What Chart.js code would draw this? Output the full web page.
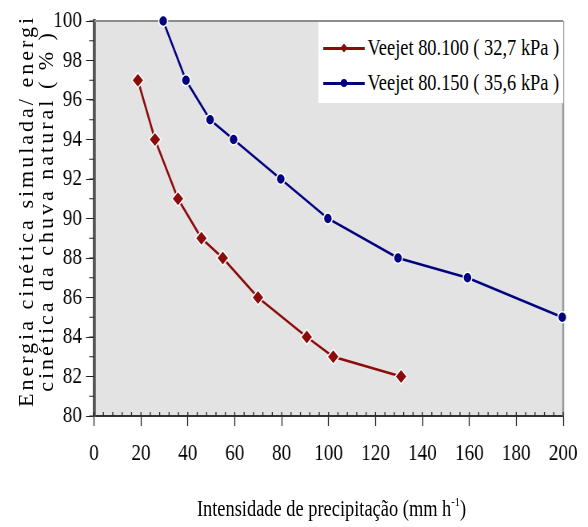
<!DOCTYPE html>
<html>
<head>
<meta charset="utf-8">
<script src="https://cdn.jsdelivr.net/npm/chart.js@4.4.1/dist/chart.umd.min.js"></script>
<style>
  html, body { margin: 0; padding: 0; background: #fff; }
  body { width: 588px; height: 527px; overflow: hidden; position: relative;
         font-family: "Liberation Serif", "Times New Roman", serif; color: #000; }
  /* the original figure is horizontally condensed, so draw wider and squeeze */
  #wrap { position: absolute; left: 0; top: 0; width: 735px; height: 527px;
          transform: scaleX(0.8); transform-origin: 0 0; }
  #wrap canvas { position: absolute; left: 0; top: 0; }
  #legend { position: absolute; left: 397.5px; top: 22px; width: 306px; height: 81px; background: #fff; }
  .row { position: absolute; left: 0; height: 30px; display: flex; align-items: center;
         font-size: 23px; white-space: nowrap; }
  .sample { position: relative; width: 52px; height: 30px; margin-left: 6px; margin-right: 4px; }
  .sample .ln { position: absolute; left: 0; right: 0; top: 14px; height: 2.5px; }
  .sample .mk { position: absolute; left: 22px; top: 11px; width: 8px; height: 8px; }
  .sample .dia { transform: rotate(45deg) scale(0.8); }
  .sample .dot { border-radius: 50%; }
  #xtitle { position: absolute; left: 117.5px; width: 593.75px; top: 496px; line-height: 26px;
            text-align: center; font-size: 23px; white-space: nowrap; }
  #xtitle sup { font-size: 13px; vertical-align: 10px; line-height: 0; }
  #ytitle { position: absolute; left: -164.5px; top: 191px; width: 400px; height: 40px;
            transform: rotate(-90deg); transform-origin: 50% 50%;
            text-align: center; font-size: 22px; line-height: 20px; letter-spacing: 3px; white-space: nowrap; }
</style>
</head>
<body>
<div id="wrap">
  <canvas id="chart" width="735" height="527"></canvas>
  <div id="legend"></div>
  <div id="xtitle">Intensidade de precipitação (mm h<sup>-1</sup>)</div>
</div>
<div id="ytitle">Energia cinética simulada/ energi<br>cinética da chuva natural ( % )</div>

<script>
// Veejet 80.100 (32,7 kPa)
const intensity100 = [18.7, 26, 35.8, 45.8, 54.9, 69.9, 90.7, 102, 130.9];
const energy100 = [97, 94, 91, 89, 88, 86, 84, 83, 82];
// Veejet 80.150 (35,6 kPa)
const intensity150 = [29.5, 39.2, 49.5, 59.5, 79.6, 99.7, 129.6, 159.2, 199.6];
const energy150 = [100, 97, 95, 94, 92, 90, 88, 87, 85];

const seriesNames = ['Veejet 80.100 ( 32,7 kPa )', 'Veejet 80.150 ( 35,6 kPa )'];
const seriesColors = ['#8b0a0a', '#000080'];

const xMin = 0, xMax = 200, xStep = 20, xMinorStep = 4;
const yMin = 80, yMax = 100, yStep = 2, yMinorStep = 1;

const toPoints = (xs, ys) => xs.map((v, i) => ({ x: v, y: ys[i] }));

// plot background, top/right frame and minor ticks
const framePlugin = {
    id: 'frame',
    beforeDraw(chart) {
        const { ctx, chartArea: a } = chart;
        ctx.save();
        ctx.fillStyle = '#e3e3e3';
        ctx.fillRect(a.left, a.top, a.right - a.left, a.bottom - a.top);
        ctx.restore();
    },
    beforeDatasetsDraw(chart) {
        const { ctx, chartArea: a, scales } = chart;
        ctx.save();
        ctx.strokeStyle = '#8c8c8c';
        ctx.lineWidth = 2;
        ctx.beginPath();
        ctx.moveTo(a.left, a.top);
        ctx.lineTo(a.right, a.top);
        ctx.stroke();
        ctx.strokeStyle = '#9a9a9a';
        ctx.lineWidth = 2.5;
        ctx.beginPath();
        ctx.moveTo(a.right, a.top);
        ctx.lineTo(a.right, a.bottom);
        ctx.stroke();

        ctx.strokeStyle = '#222';
        ctx.lineWidth = 1.25;
        ctx.beginPath();
        for (let v = xMin; v <= xMax; v += xMinorStep) {
            const px = scales.x.getPixelForValue(v);
            ctx.moveTo(px, a.bottom);
            ctx.lineTo(px, a.bottom - 4);
        }
        ctx.stroke();
        ctx.lineWidth = 1;
        ctx.beginPath();
        for (let v = yMin; v <= yMax; v += yMinorStep) {
            const py = scales.y.getPixelForValue(v);
            ctx.moveTo(a.left, py);
            ctx.lineTo(a.left - 6, py);
        }
        ctx.stroke();
        ctx.restore();
    }
};

const tickFont = { family: '"Liberation Serif", "Times New Roman", serif', size: 24 };

new Chart(document.getElementById('chart').getContext('2d'), {
    type: 'scatter',
    data: {
        datasets: [{
            label: seriesNames[0],
            data: toPoints(intensity100, energy100),
            showLine: true,
            borderColor: seriesColors[0],
            borderWidth: 2.5,
            pointStyle: 'rectRot',
            pointRadius: 7.5,
            pointBackgroundColor: seriesColors[0],
            pointBorderColor: '#fff',
            pointBorderWidth: 1.5,
            clip: false
        }, {
            label: seriesNames[1],
            data: toPoints(intensity150, energy150),
            showLine: true,
            borderColor: seriesColors[1],
            borderWidth: 2.5,
            pointStyle: 'circle',
            pointRadius: 5.5,
            pointBackgroundColor: seriesColors[1],
            pointBorderColor: '#fff',
            pointBorderWidth: 1.5,
            clip: false
        }]
    },
    options: {
        responsive: false,
        animation: false,
        devicePixelRatio: 1,
        layout: { padding: { left: 0, right: 23.75, top: 21, bottom: 0 } },
        plugins: {
            legend: { display: false },
            tooltip: { enabled: false }
        },
        scales: {
            x: {
                type: 'linear',
                min: xMin,
                max: xMax,
                afterFit: scale => { scale.height = 111; },
                ticks: { stepSize: xStep, font: tickFont, color: '#000', padding: 13, maxRotation: 0 },
                grid: { drawOnChartArea: false, tickLength: 10, tickColor: '#222', tickWidth: 1.25 },
                border: { color: '#333', width: 2 },
                title: { display: false }
            },
            y: {
                min: yMin,
                max: yMax,
                afterFit: scale => { scale.width = 117.5; },
                ticks: { stepSize: yStep, font: tickFont, color: '#000', padding: 5 },
                grid: { drawOnChartArea: false, tickLength: 10, tickColor: '#222', tickWidth: 1 },
                border: { color: '#555', width: 3.75 },
                title: { display: false }
            }
        }
    },
    plugins: [framePlugin]
});

// legend drawn as html inside the squeezed wrapper
const legendEl = document.getElementById('legend');
seriesNames.forEach((name, i) => {
    const row = document.createElement('div');
    row.className = 'row';
    row.style.top = (11 + i * 35) + 'px';
    row.innerHTML =
        `<div class="sample">
            <div class="ln" style="background:${seriesColors[i]}"></div>
            <div class="mk ${i === 0 ? 'dia' : 'dot'}" style="background:${seriesColors[i]}"></div>
         </div><span>${name}</span>`;
    legendEl.appendChild(row);
});
</script>
</body>
</html>
